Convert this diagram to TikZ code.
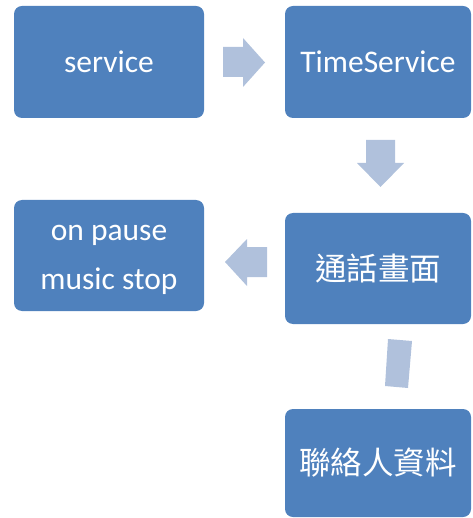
\documentclass[tikz,border=0pt]{standalone}
\usepackage{fontspec}
\setmainfont{Carlito}
\newfontfamily\cjk{Noto Sans CJK TC}
\definecolor{boxblue}{RGB}{79,129,189}
\definecolor{arrowblue}{RGB}{176,193,220}
\begin{document}
\begin{tikzpicture}[x=1pt,y=-1pt,
  box/.style={fill=boxblue, draw=none, rounded corners=8pt, text=white,
    font=\fontsize{31.5}{49}\selectfont, align=center, inner sep=0pt},
  boxtext/.style={text=white, font=\fontsize{31.5}{49}\selectfont, align=center, inner sep=0pt},
  blockarrow/.style={fill=arrowblue, draw=none}]
\useasboundingbox (0,0) rectangle (472,518);
\node[box, minimum width=190pt, minimum height=112pt] (service) at (109,62) {service};
\node[box, minimum width=186pt, minimum height=112pt] (time) at (378,62) {TimeService};
\node[box, minimum width=190pt, minimum height=111pt] (pause) at (109,255.5) {};
\node[boxtext] (pausetext) at (109,260) {on pause\\music stop};
\node[box, minimum width=186pt, minimum height=111pt] (call) at (378,268.5) {\cjk 通話畫面};
\node[box, minimum width=186pt, minimum height=108pt] (contact) at (378,463) {\cjk 聯絡人資料};
% right arrow
\fill[blockarrow] (223,47) -- (243,47) -- (243,38) -- (265,62.5) -- (243,87) -- (243,77) -- (223,77) -- cycle;
% down arrow
\fill[blockarrow] (366,140) -- (395,140) -- (395,163) -- (404,163) -- (380.5,187) -- (357,163) -- (366,163) -- cycle;
% left arrow
\fill[blockarrow] (267,247) -- (247,247) -- (247,239) -- (225,262) -- (247,286) -- (247,277) -- (267,277) -- cycle;
% bar
\fill[blockarrow] (388,339) -- (412,341) -- (408,388) -- (385,386) -- cycle;
\end{tikzpicture}
\end{document}
